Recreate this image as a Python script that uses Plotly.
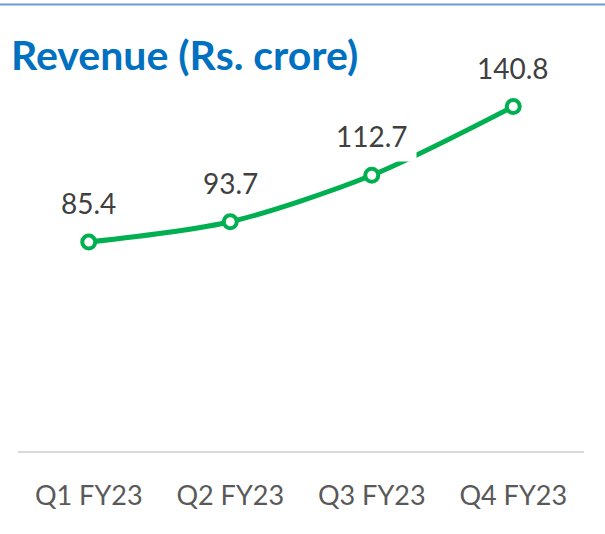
import plotly.graph_objects as go

quarters = ["Q1 FY23", "Q2 FY23", "Q3 FY23", "Q4 FY23"]
revenue = [85.4, 93.7, 112.7, 140.8]

W, H = 605, 534
M = dict(l=18, r=21, t=62, b=83)
plot_w = W - M["l"] - M["r"]
plot_h = H - M["t"] - M["b"]
FONT = "Lato, 'Open Sans', sans-serif"

fig = go.Figure()
fig.add_trace(go.Scatter(
    x=quarters, y=revenue,
    mode="lines+markers",
    line=dict(color="#00B050", width=5, shape="spline", smoothing=0.8),
    marker=dict(size=13, color="white", line=dict(color="#00B050", width=4)),
    showlegend=False, hoverinfo="skip",
))

# data labels with white box (Excel style, the Q3 one clips the line)
for q, v in zip(quarters, revenue):
    fig.add_annotation(
        x=q, y=v, text=f"{v:.1f}", showarrow=False,
        yshift=39, bgcolor="white", borderpad=8,
        font=dict(family=FONT, size=28, color="#404040"),
    )

fig.add_annotation(
    text="<b>Revenue (Rs. crore)</b>", xref="paper", yref="paper",
    x=-9 / plot_w, y=(plot_h + M["t"] - 54) / plot_h,
    xanchor="left", yanchor="middle", showarrow=False,
    font=dict(family=FONT, size=41, color="#0070C0"),
)

# thin blue rule along the top of the slide
fig.add_shape(
    type="line", xref="paper", yref="paper",
    x0=-M["l"] / plot_w, x1=1 + M["r"] / plot_w,
    y0=(plot_h + M["t"] - 4.5) / plot_h, y1=(plot_h + M["t"] - 4.5) / plot_h,
    line=dict(color="#6A9AD8", width=2),
)

fig.update_layout(
    width=W, height=H, margin=M,
    paper_bgcolor="white", plot_bgcolor="white",
    xaxis=dict(
        range=[-0.5, 3.5], showgrid=False, showline=True,
        linecolor="#D9D9D9", linewidth=1.5, ticks="", ticklabelstandoff=20,
        tickfont=dict(family=FONT, size=27, color="#595959"),
    ),
    yaxis=dict(range=[0, 159], visible=False),
)

fig.write_html("out.html", config={"displayModeBar": False},
               post_script="document.body.style.margin='0';")
